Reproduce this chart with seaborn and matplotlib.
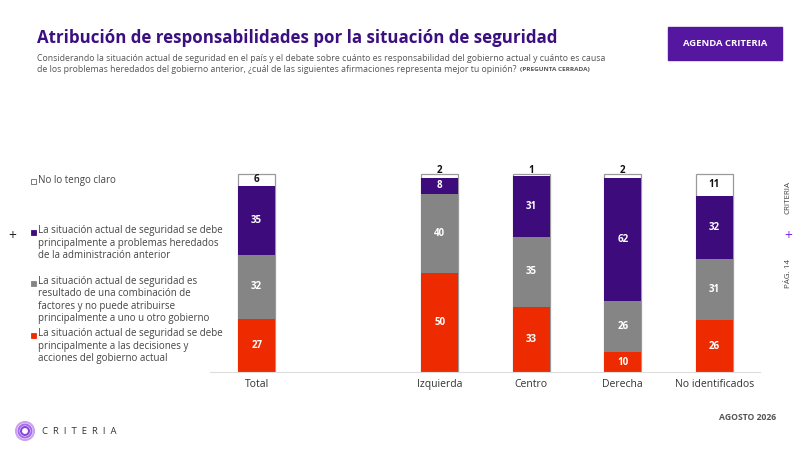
import matplotlib
matplotlib.use("Agg")
import matplotlib.pyplot as plt
import matplotlib.patches as mpatches
import numpy as np
import pandas as pd
import seaborn as sns

# data
groups = ["Total", "Izquierda", "Centro", "Derecha", "No identificados"]
group_pos = [0, 2, 3, 4, 5]
gobierno_actual = [27, 50, 33, 10, 26]
combinacion = [32, 40, 35, 26, 31]
heredados = [35, 8, 31, 62, 32]
no_claro = [6, 2, 1, 2, 11]

legend_labels = [
    "No lo tengo claro",
    "La situación actual de seguridad se debe\nprincipalmente a problemas heredados\nde la administración anterior",
    "La situación actual de seguridad es\nresultado de una combinación de\nfactores y no puede atribuirse\nprincipalmente a uno u otro gobierno",
    "La situación actual de seguridad se debe\nprincipalmente a las decisiones y\nacciones del gobierno actual",
]

RED = "#ee2b00"
GRAY = "#858585"
PURPLE = "#3d0b7c"
TITLE_PURPLE = "#3b0f80"
BOX_PURPLE = "#5516a0"

sns.set_theme(style="white")
plt.rcParams["font.family"] = ["Open Sans", "DejaVu Sans"]

fig = plt.figure(figsize=(8, 4.5), dpi=100)
ax = fig.add_axes([0.2625, 0.1733, 0.6875, 0.4422])

df = pd.DataFrame({
    "pos": group_pos,
    "red": gobierno_actual,
    "gray": combinacion,
    "purple": heredados,
    "white": no_claro,
})
df["c1"] = df["red"]
df["c2"] = df["c1"] + df["gray"]
df["c3"] = df["c2"] + df["purple"]
df["c4"] = df["c3"] + df["white"]

# overlay cumulative bars, back to front
sns.barplot(data=df, x="pos", y="c4", native_scale=True, width=0.4, color="white",
            edgecolor="#9a9a9a", linewidth=0.9, saturation=1, ax=ax)
sns.barplot(data=df, x="pos", y="c3", native_scale=True, width=0.4, color=PURPLE,
            linewidth=0, saturation=1, ax=ax)
sns.barplot(data=df, x="pos", y="c2", native_scale=True, width=0.4, color=GRAY,
            linewidth=0, saturation=1, ax=ax)
sns.barplot(data=df, x="pos", y="c1", native_scale=True, width=0.4, color=RED,
            linewidth=0, saturation=1, ax=ax)

ax.set_xlim(-0.51, 5.5)
ax.set_ylim(0, 100.4)
ax.set_xticks(group_pos)
ax.set_xticklabels(groups, fontsize=7.5, color="#333333")
ax.tick_params(axis="x", length=0, pad=5)
ax.set_yticks([])
ax.set_xlabel("")
ax.set_ylabel("")
for s in ["top", "right", "left"]:
    ax.spines[s].set_visible(False)
ax.spines["bottom"].set_color("#dddddd")
ax.spines["bottom"].set_linewidth(0.8)

lab = dict(ha="center", va="center", fontsize=7, fontweight="bold")
for i, p in enumerate(group_pos):
    r, g, pu, w = gobierno_actual[i], combinacion[i], heredados[i], no_claro[i]
    ax.text(p, r / 2, str(r), color="white", **lab)
    ax.text(p, r + g / 2, str(g), color="white", **lab)
    ax.text(p, r + g + pu / 2, str(pu), color="white", **lab)
    top = r + g + pu
    if w >= 5:
        ax.text(p, top + w / 2, str(w), color="#111111", **lab)
    else:
        ax.text(p, top + w + 1.6, str(w), color="#111111", **lab)

# title & subtitle
fig.text(37 / 800, 1 - 38 / 450, "Atribución de responsabilidades por la situación de seguridad",
         fontsize=12.2, fontweight="bold", color=TITLE_PURPLE, va="center", ha="left")
fig.text(37 / 800, 1 - 58.5 / 450,
         "Considerando la situación actual de seguridad en el país y el debate sobre cuánto es responsabilidad del gobierno actual y cuánto es causa",
         fontsize=6.3, color="#555555", va="center", ha="left")
sub2 = fig.text(37 / 800, 1 - 69.5 / 450,
                "de los problemas heredados del gobierno anterior, ¿cuál de las siguientes afirmaciones representa mejor tu opinión?",
                fontsize=6.3, color="#555555", va="center", ha="left")
fig.canvas.draw()
bb = sub2.get_window_extent(renderer=fig.canvas.get_renderer())
fig.text(bb.x1 / fig.bbox.width + 3 / 800, 1 - 69.5 / 450, "(PREGUNTA CERRADA)", fontsize=4.6,
         fontweight="bold", color="#555555", va="center", ha="left")

# header box
fig.patches.append(mpatches.Rectangle((668 / 800, 1 - 60 / 450), 114 / 800, 33 / 450,
                                      transform=fig.transFigure, color=BOX_PURPLE, zorder=0))
fig.text(725 / 800, 1 - 43.5 / 450, "AGENDA CRITERIA", fontsize=6.8, fontweight="bold",
         color="white", ha="center", va="center")

# legend
leg_items = [
    (legend_labels[0], "white", 181),
    (legend_labels[1], PURPLE, 243),
    (legend_labels[2], GRAY, 300),
    (legend_labels[3], RED, 346),
]
for text, col, yc in leg_items:
    fig.text(38 / 800, 1 - yc / 450, text, fontsize=7.0, color="#444444",
             ha="left", va="center", linespacing=1.18)
    first_line_y = yc - (text.count("\n")) * 10.8 / 2
    edge = "#666666" if col == "white" else col
    fig.patches.append(mpatches.Rectangle((30.5 / 800, 1 - (first_line_y + 2.5) / 450), 5 / 800, 5 / 450,
                                          transform=fig.transFigure, facecolor=col,
                                          edgecolor=edge, linewidth=0.6))

fig.text(12 / 800, 1 - 236 / 450, "+", fontsize=10, color="#222222", ha="center", va="center")

# side markers
fig.text(788 / 800, 1 - 198 / 450, "CRITERIA", rotation=90, fontsize=5.8, color="#444444",
         ha="center", va="center")
fig.text(788 / 800, 1 - 236 / 450, "+", fontsize=10, color="#7b2be0", ha="center", va="center")
fig.text(788 / 800, 1 - 274 / 450, "PÁG. 14", rotation=90, fontsize=5.8, color="#444444",
         ha="center", va="center")

# footer
fig.text(776 / 800, 1 - 418 / 450, "AGOSTO 2026", fontsize=6.2, fontweight="bold",
         color="#555555", ha="right", va="center")
for rad, c in [(9, "#c9a3f2"), (6.5, "#a66be8"), (4, "#8a45dc")]:
    fig.patches.append(mpatches.Ellipse((25 / 800, 1 - 431 / 450), 2 * rad / 800, 2 * rad / 450,
                                        transform=fig.transFigure, facecolor="none",
                                        edgecolor=c, linewidth=1.5))
fig.text(42 / 800, 1 - 431 / 450, "C  R  I  T  E  R  I  A", fontsize=6.8, color="#333333",
         ha="left", va="center")

fig.savefig("out.png", dpi=100)
